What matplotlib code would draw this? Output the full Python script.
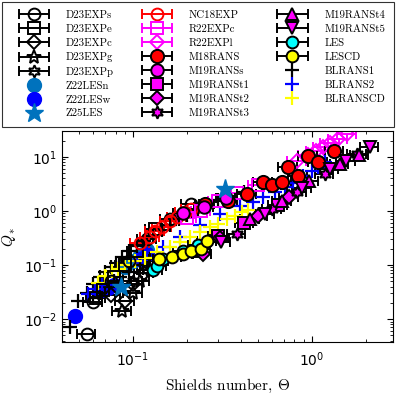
import numpy as np
import matplotlib.pyplot as plt
from matplotlib.legend_handler import HandlerErrorbar
from matplotlib.container import ErrorbarContainer

plt.rcParams['mathtext.fontset'] = 'dejavusans'

# ---- data (Shields number theta, dimensionless flux Q*) ----
d23s_x = [0.055, 0.060, 0.075, 0.095, 0.12, 0.16, 0.21]
d23s_y = [0.0053, 0.021, 0.05, 0.12, 0.3, 0.7, 1.35]
d23e_x = [0.062, 0.068, 0.078, 0.09, 0.105, 0.133]
d23e_y = [0.025, 0.035, 0.06, 0.1, 0.18, 0.47]
d23c_x = [0.075, 0.09, 0.1, 0.115]
d23c_y = [0.028, 0.022, 0.045, 0.07]
d23g_x = [0.087, 0.1, 0.11]
d23g_y = [0.014, 0.03, 0.05]
d23p_x = [0.1, 0.12, 0.14]
d23p_y = [0.05, 0.08, 0.12]

z22n_x = [0.09, 0.1, 0.11, 0.12]
z22n_y = [0.09, 0.12, 0.15, 0.19]
z22w_x = [0.0474, 0.066, 0.072, 0.078, 0.11, 0.12]
z22w_y = [0.0113, 0.034, 0.038, 0.042, 0.13, 0.16]
z25_x = [0.086, 0.327]
z25_y = [0.04, 2.5]

nc18_x = [0.109, 0.124, 0.133, 0.146, 0.161, 0.177, 0.195, 0.21]
nc18_y = [0.25, 0.33, 0.42, 0.5, 0.65, 0.76, 0.94, 1.09]
r22c_x = [0.2, 0.24, 0.3, 0.38, 0.5]
r22c_y = [0.75, 1.0, 1.5, 2.1, 3.0]
r22l_x = [0.83, 0.95, 1.05, 1.15, 1.27, 1.4, 1.58]
r22l_y = [8.3, 11, 13, 15.5, 18, 21, 26]

m18_x = [0.252, 0.34, 0.434, 0.532, 0.598, 0.68, 0.734, 0.835, 0.95, 1.08, 1.34]
m18_y = [1.34, 1.53, 2.05, 3.4, 3.0, 3.4, 6.4, 4.4, 10.2, 7.9, 12.6]

m19s_x = [0.19, 0.25, 0.33]
m19s_y = [0.9, 1.2, 1.7]
m19t1_x = [0.23, 0.3, 0.42, 0.65]
m19t1_y = [0.18, 0.35, 0.6, 1.3]
m19t2_x = [0.245, 0.306, 0.5, 0.75]
m19t2_y = [0.163, 0.31, 0.8, 1.8]
m19t3_x = [0.38, 0.6, 0.83, 1.18, 1.8]
m19t3_y = [0.38, 1.1, 2.2, 4.8, 11.1]
m19t4_x = [0.45, 0.68, 0.97, 1.43, 1.85]
m19t4_y = [0.71, 1.5, 3.5, 7.3, 11]
m19t5_x = [0.31, 0.55, 0.88, 1.26, 1.56, 2.11]
m19t5_y = [0.27, 0.88, 2.6, 5.9, 8.5, 14.9]

les_x = [0.13, 0.136, 0.147, 0.19, 0.23]
les_y = [0.08, 0.094, 0.13, 0.18, 0.23]
lescd_x = [0.14, 0.165, 0.19, 0.21, 0.24, 0.26]
lescd_y = [0.13, 0.14, 0.163, 0.18, 0.2, 0.28]

bl1_x = [0.0445, 0.049, 0.055, 0.06, 0.065, 0.07, 0.075, 0.08, 0.087, 0.095,
         0.105, 0.115, 0.13, 0.145, 0.16, 0.18, 0.2, 0.23, 0.26, 0.3, 0.35, 0.42,
         0.06, 0.065, 0.07, 0.078, 0.085, 0.095, 0.11, 0.125]
bl1_y = [0.007, 0.022, 0.03, 0.045, 0.06, 0.075, 0.09, 0.11, 0.14, 0.18,
         0.22, 0.28, 0.35, 0.45, 0.55, 0.7, 0.85, 1.05, 1.3, 1.6, 1.9, 2.2,
         0.025, 0.03, 0.04, 0.05, 0.06, 0.075, 0.1, 0.13]
bl2_x = [0.0561, 0.0614, 0.0672, 0.147, 0.183, 0.237, 0.306, 0.396, 0.468,
         0.532, 0.621, 0.707, 0.783, 0.891, 1.0, 1.08, 1.18]
bl2_y = [0.0288, 0.0355, 0.042, 0.218, 0.333, 0.553, 0.88, 1.24, 1.46,
         1.81, 2.23, 2.76, 3.26, 4.39, 5.42, 6.42, 7.93]
blcd_x = [0.0637, 0.0698, 0.0763, 0.0824, 0.0902, 0.1026, 0.1167, 0.136, 0.161,
          0.183, 0.208, 0.237, 0.269, 0.298, 0.335, 0.371, 0.407, 0.44]
blcd_y = [0.046, 0.0615, 0.076, 0.086, 0.098, 0.121, 0.132, 0.177, 0.218,
          0.27, 0.333, 0.41, 0.51, 0.58, 0.71, 0.81, 0.96, 1.04]

# MATLAB-style pure colours
RED, MAG, CYN, YEL, BLU = '#FF0000', '#FF00FF', '#00FFFF', '#FFFF00', '#0000FF'
MBLUE = '#0072BD'

fig = plt.figure(figsize=(3.97, 3.97), dpi=100)
ax = fig.add_axes([0.156, 0.139, 0.834, 0.531])

lw = 1.4
hexagram = (6, 1, 0)


def eb(x, y, marker, mfc, mec, ecol, label, ms=8.5):
    x = np.array(x)
    return ax.errorbar(x, y, xerr=0.12 * x, marker=marker, linestyle='none',
                       mfc=mfc, mec=mec, ecolor=ecol, ms=ms, mew=lw, elinewidth=lw,
                       capsize=3.5, capthick=lw, label=label)


h = []
h.append(eb(d23s_x, d23s_y, 'o', 'none', 'k', 'k', 'D23EXPs'))
h.append(eb(d23e_x, d23e_y, 's', 'none', 'k', 'k', 'D23EXPe', ms=8))
h.append(eb(d23c_x, d23c_y, 'D', 'none', 'k', 'k', 'D23EXPc', ms=7.5))
h.append(eb(d23g_x, d23g_y, '*', 'none', 'k', 'k', 'D23EXPg', ms=10))
h.append(eb(d23p_x, d23p_y, hexagram, 'none', 'k', 'k', 'D23EXPp', ms=9))
h.append(ax.plot(z22n_x, z22n_y, 'o', color=MBLUE, ms=10, label='Z22LESn')[0])
h.append(ax.plot(z22w_x, z22w_y, 'o', color=BLU, ms=10, label='Z22LESw')[0])
h.append(ax.plot(z25_x, z25_y, '*', color=MBLUE, ms=14, label='Z25LES', zorder=5)[0])
h.append(eb(nc18_x, nc18_y, 'o', 'none', RED, RED, 'NC18EXP'))
h.append(eb(r22c_x, r22c_y, 's', 'none', MAG, MAG, 'R22EXPc', ms=8))
h.append(eb(r22l_x, r22l_y, 'D', 'none', MAG, MAG, 'R22EXPl', ms=7.5))
h.append(eb(m18_x, m18_y, 'o', RED, 'k', 'k', 'M18RANS', ms=9.5))
h.append(eb(m19s_x, m19s_y, 'o', MAG, 'k', 'k', 'M19RANSs', ms=9))
h.append(eb(m19t1_x, m19t1_y, 's', MAG, 'k', 'k', 'M19RANSt1', ms=8))
h.append(eb(m19t2_x, m19t2_y, 'D', MAG, 'k', 'k', 'M19RANSt2', ms=7.5))
h.append(eb(m19t3_x, m19t3_y, hexagram, MAG, 'k', 'k', 'M19RANSt3', ms=9))
h.append(eb(m19t4_x, m19t4_y, '^', MAG, 'k', 'k', 'M19RANSt4', ms=9))
h.append(eb(m19t5_x, m19t5_y, 'v', MAG, 'k', 'k', 'M19RANSt5', ms=9))
h.append(eb(les_x, les_y, 'o', CYN, 'k', 'k', 'LES'))
h.append(eb(lescd_x, lescd_y, 'o', YEL, 'k', 'k', 'LESCD'))
h.append(ax.plot(bl1_x, bl1_y, '+', color='k', ms=10, mew=1.6, label='BLRANS1')[0])
h.append(ax.plot(bl2_x, bl2_y, '+', color=BLU, ms=10, mew=1.6, label='BLRANS2')[0])
h.append(ax.plot(blcd_x, blcd_y, '+', color=YEL, ms=10, mew=1.6, label='BLRANSCD')[0])

ax.set_xscale('log')
ax.set_yscale('log')
ax.set_xlim(0.04, 2.85)
ax.set_ylim(0.0038, 30)
ax.tick_params(which='both', direction='in', top=True, right=True, labelsize=10)
ax.tick_params(which='major', length=4)
ax.tick_params(which='minor', length=2)
ax.tick_params(axis='x', pad=6)
for s in ax.spines.values():
    s.set_linewidth(0.8)

ax.set_xlabel(r'Shields number, $\Theta$', family='cmr10', fontsize=11,
              math_fontfamily='cm', labelpad=6)
ax.set_ylabel(r'$Q_*$', fontsize=11, math_fontfamily='cm')

leg = fig.legend(handles=h, ncol=3, loc='upper left', bbox_to_anchor=(0.005, 0.995),
                 borderaxespad=0, prop={'family': 'cmr10', 'size': 7.8}, frameon=True,
                 fancybox=False, edgecolor='k', handlelength=4.3, handletextpad=0.8,
                 columnspacing=1.8, labelspacing=0.4, borderpad=0.8,
                 handler_map={ErrorbarContainer: HandlerErrorbar(xerr_size=1.4)})
leg.get_frame().set_linewidth(0.8)

fig.savefig('out.png', dpi=100)
